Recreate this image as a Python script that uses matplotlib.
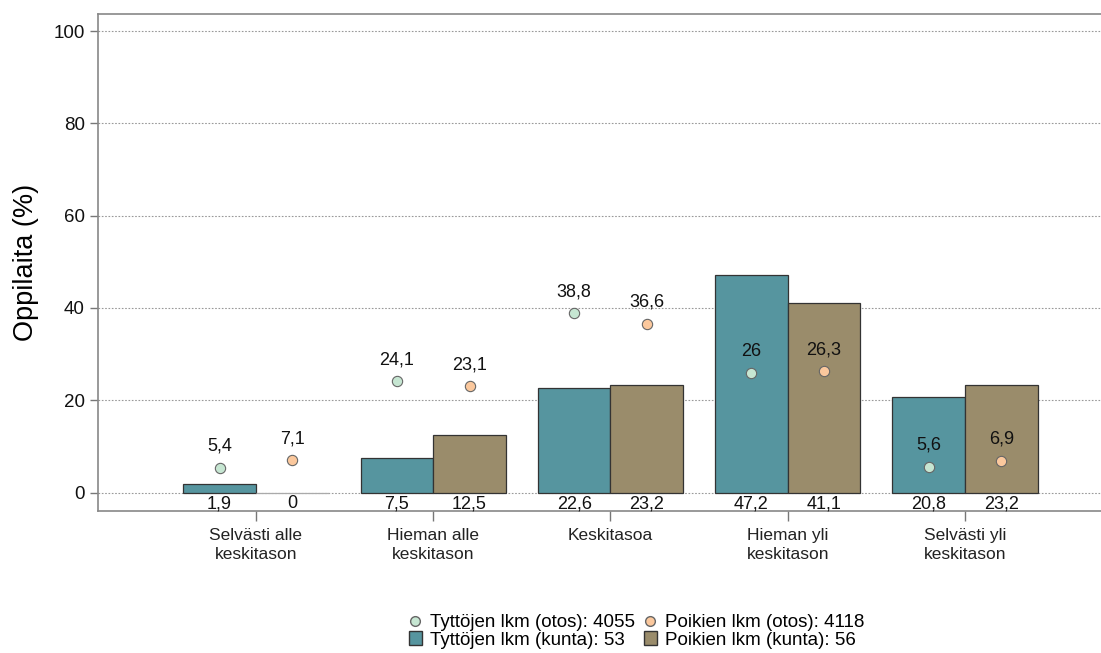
import numpy as np
import matplotlib
matplotlib.use("Agg")
import matplotlib.pyplot as plt
from matplotlib.lines import Line2D
from matplotlib.patches import Patch

plt.rcParams["font.family"] = ["Liberation Sans", "DejaVu Sans"]

categories = ["Selvästi alle\nkeskitason", "Hieman alle\nkeskitason", "Keskitasoa",
              "Hieman yli\nkeskitason", "Selvästi yli\nkeskitason"]
girls_kunta = [1.9, 7.5, 22.6, 47.2, 20.8]
boys_kunta = [0, 12.5, 23.2, 41.1, 23.2]
girls_otos = [5.4, 24.1, 38.8, 26, 5.6]
boys_otos = [7.1, 23.1, 36.6, 26.3, 6.9]
legend_labels = ["Tyttöjen lkm (otos): 4055", "Tyttöjen lkm (kunta): 53",
                 "Poikien lkm (otos): 4118", "Poikien lkm (kunta): 56"]

teal = "#56959f"
khaki = "#9a8c6b"
light_green = "#c6e6d2"
peach = "#fbc89d"


def fmt(v):
    """Finnish decimal comma"""
    s = f"{v:g}"
    return s.replace(".", ",")


fig = plt.figure(figsize=(11.01, 6.53), dpi=100)
ax = fig.add_axes([0.089, 0.2175, 0.911, 0.761])

x = np.arange(len(categories))
w = 0.41

ax.bar(x - w / 2, girls_kunta, width=w, color=teal, edgecolor="#333333", linewidth=0.9, zorder=3)
for xi, v in zip(x + w / 2, boys_kunta):
    ec = "#333333" if v > 0 else "#aaaaaa"
    ax.bar(xi, v, width=w, color=khaki, edgecolor=ec, linewidth=0.9, zorder=3)

ax.scatter(x - w / 2, girls_otos, s=55, color=light_green, edgecolor="#666666", linewidth=0.8, zorder=5)
ax.scatter(x + w / 2, boys_otos, s=55, color=peach, edgecolor="#666666", linewidth=0.8, zorder=5)

lab_fs = 13
for xs, vals in [(x - w / 2, girls_kunta), (x + w / 2, boys_kunta)]:
    for xi, v in zip(xs, vals):
        ax.text(xi, -2.4, fmt(v), ha="center", va="center", fontsize=lab_fs, color="#111111", zorder=6)
for xs, vals in [(x - w / 2, girls_otos), (x + w / 2, boys_otos)]:
    for xi, v in zip(xs, vals):
        ax.text(xi, v + 4.6, fmt(v), ha="center", va="center", fontsize=lab_fs, color="#111111", zorder=6)

ax.set_xlim(-0.891, 4.767)
ax.set_ylim(-4.0, 103.7)
ax.set_yticks([0, 20, 40, 60, 80, 100])
ax.yaxis.grid(True, linestyle=(0, (1.5, 1.5)), color="#999999", linewidth=0.8, zorder=0)
ax.set_axisbelow(True)

ax.set_xticks(x)
ax.set_xticklabels(categories, fontsize=12.5, color="#222222", linespacing=1.4)
ax.tick_params(axis="y", labelsize=13.5, colors="#777777", labelcolor="#111111", length=6, width=1)
ax.tick_params(axis="x", colors="#777777", labelcolor="#222222", length=7, width=1, pad=5)

for s in ["left", "top", "bottom"]:
    ax.spines[s].set_color("#888888")
    ax.spines[s].set_linewidth(1.2)
ax.spines["right"].set_visible(False)

ax.set_ylabel("Oppilaita (%)", fontsize=19.5, labelpad=10.5)

handles = [
    Line2D([], [], marker="o", linestyle="", markerfacecolor=light_green, markeredgecolor="#666666", markersize=7),
    Patch(facecolor=teal, edgecolor="#333333"),
    Line2D([], [], marker="o", linestyle="", markerfacecolor=peach, markeredgecolor="#666666", markersize=7),
    Patch(facecolor=khaki, edgecolor="#333333"),
]
fig.legend(handles, legend_labels, ncol=2, loc="center", bbox_to_anchor=(0.578, 0.033),
           frameon=False, fontsize=13.5, handlelength=0.7, handleheight=0.7, handletextpad=0.4,
           columnspacing=0.5, labelspacing=0.0, borderpad=0)

fig.savefig("out.png", dpi=100)
